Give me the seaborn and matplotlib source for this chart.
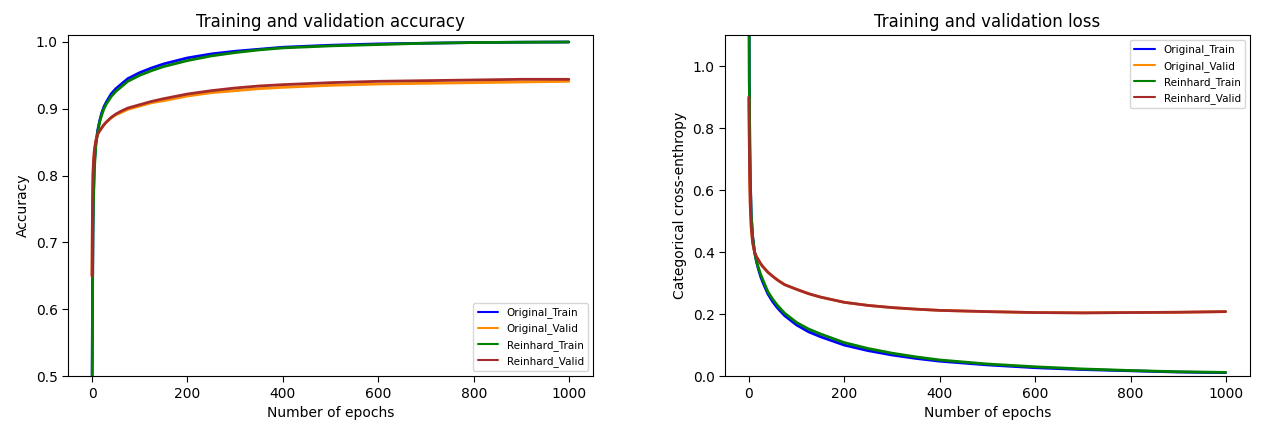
import numpy as np
import pandas as pd
import seaborn as sns
import matplotlib
matplotlib.use("Agg")
import matplotlib.pyplot as plt

series_names = ["Original_Train", "Original_Valid", "Reinhard_Train", "Reinhard_Valid"]
series_colors = ["blue", "darkorange", "green", "brown"]

epochs = [0, 1, 2, 3, 5, 8, 12, 16, 20, 25, 30, 40, 50, 60, 75, 100, 125, 150, 200,
          250, 300, 350, 400, 500, 600, 700, 800, 900, 999]

acc_orig_train = [0.45, 0.62, 0.72, 0.77, 0.82, 0.848, 0.868, 0.882, 0.893, 0.903, 0.91, 0.922,
                  0.930, 0.936, 0.945, 0.954, 0.961, 0.967, 0.976, 0.982, 0.986, 0.989, 0.992,
                  0.995, 0.997, 0.998, 0.999, 0.9995, 0.9998]
acc_orig_valid = [0.65, 0.76, 0.80, 0.82, 0.838, 0.852, 0.862, 0.867, 0.871, 0.876, 0.880, 0.886,
                  0.891, 0.894, 0.899, 0.904, 0.909, 0.912, 0.919, 0.924, 0.927, 0.930, 0.932,
                  0.935, 0.937, 0.938, 0.939, 0.940, 0.941]
acc_rein_train = [0.43, 0.60, 0.71, 0.76, 0.81, 0.845, 0.866, 0.880, 0.890, 0.900, 0.907, 0.918,
                  0.926, 0.932, 0.941, 0.950, 0.957, 0.963, 0.972, 0.979, 0.984, 0.988, 0.991,
                  0.994, 0.996, 0.998, 0.999, 0.9995, 0.9998]
acc_rein_valid = [0.65, 0.76, 0.80, 0.82, 0.838, 0.852, 0.862, 0.867, 0.871, 0.876, 0.880, 0.887,
                  0.892, 0.896, 0.901, 0.906, 0.911, 0.915, 0.922, 0.927, 0.931, 0.934, 0.936,
                  0.939, 0.941, 0.942, 0.943, 0.944, 0.944]

loss_orig_train = [1.50, 0.95, 0.75, 0.64, 0.52, 0.45, 0.40, 0.37, 0.345, 0.32, 0.30, 0.265,
                   0.24, 0.22, 0.195, 0.165, 0.143, 0.127, 0.10, 0.082, 0.068, 0.057, 0.048,
                   0.036, 0.027, 0.021, 0.017, 0.013, 0.011]
loss_orig_valid = [0.90, 0.75, 0.62, 0.55, 0.48, 0.43, 0.40, 0.385, 0.375, 0.362, 0.352, 0.335,
                   0.322, 0.310, 0.295, 0.280, 0.266, 0.255, 0.238, 0.228, 0.221, 0.216, 0.212,
                   0.208, 0.205, 0.204, 0.205, 0.206, 0.208]
loss_rein_train = [1.50, 0.95, 0.75, 0.64, 0.52, 0.45, 0.40, 0.37, 0.35, 0.327, 0.308, 0.272,
                   0.248, 0.228, 0.203, 0.173, 0.152, 0.136, 0.108, 0.089, 0.074, 0.062, 0.052,
                   0.039, 0.030, 0.023, 0.018, 0.014, 0.012]
loss_rein_valid = [0.90, 0.75, 0.62, 0.55, 0.48, 0.43, 0.40, 0.385, 0.375, 0.362, 0.352, 0.335,
                   0.322, 0.310, 0.295, 0.280, 0.266, 0.255, 0.238, 0.228, 0.221, 0.216, 0.212,
                   0.208, 0.205, 0.204, 0.205, 0.206, 0.208]

acc_series = [acc_orig_train, acc_orig_valid, acc_rein_train, acc_rein_valid]
loss_series = [loss_orig_train, loss_orig_valid, loss_rein_train, loss_rein_valid]

def long_frame(values_list):
    rows = []
    for name, vals in zip(series_names, values_list):
        for e, v in zip(epochs, vals):
            rows.append({"epoch": e, "value": v, "series": name})
    return pd.DataFrame(rows)

df_acc = long_frame(acc_series)
df_loss = long_frame(loss_series)

sns.set_style("white")
plt.rcParams["font.family"] = ["DejaVu Sans"]
plt.rcParams["axes.edgecolor"] = "black"
plt.rcParams["text.color"] = "black"
plt.rcParams["axes.labelcolor"] = "black"
plt.rcParams["xtick.color"] = "black"
plt.rcParams["ytick.color"] = "black"
plt.rcParams["xtick.bottom"] = True
plt.rcParams["ytick.left"] = True

fig, (ax1, ax2) = plt.subplots(1, 2, figsize=(12.62, 4.24), dpi=100)
fig.subplots_adjust(left=0.054, right=0.9905, top=0.917, bottom=0.113, wspace=0.251)

palette = dict(zip(series_names, series_colors))

sns.lineplot(data=df_acc, x="epoch", y="value", hue="series", palette=palette,
             hue_order=series_names, ax=ax1, linewidth=2.0)
sns.lineplot(data=df_loss, x="epoch", y="value", hue="series", palette=palette,
             hue_order=series_names, ax=ax2, linewidth=2.0)

ax1.set_xlim(-50, 1050)
ax1.set_ylim(0.5, 1.01)
ax2.set_xlim(-50, 1050)
ax2.set_ylim(0.0, 1.1)

ax1.set_title("Training and validation accuracy", fontsize=12, color="black")
ax2.set_title("Training and validation loss", fontsize=12, color="black")
ax1.set_xlabel("Number of epochs", fontsize=10)
ax2.set_xlabel("Number of epochs", fontsize=10)
ax1.set_ylabel("Accuracy", fontsize=10)
ax2.set_ylabel("Categorical cross-enthropy", fontsize=10)

for ax in (ax1, ax2):
    ax.tick_params(labelsize=10, length=4, width=0.8, colors="black")
    for s in ax.spines.values():
        s.set_color("black")
        s.set_linewidth(0.8)

leg1 = ax1.legend(loc="lower right", fontsize=7.5, frameon=True)
leg2 = ax2.legend(loc="upper right", fontsize=7.5, frameon=True)
for leg in (leg1, leg2):
    for h in leg.get_lines():
        h.set_linewidth(1.5)
    for t in leg.get_texts():
        t.set_color("black")

fig.savefig("out.png", dpi=100)
